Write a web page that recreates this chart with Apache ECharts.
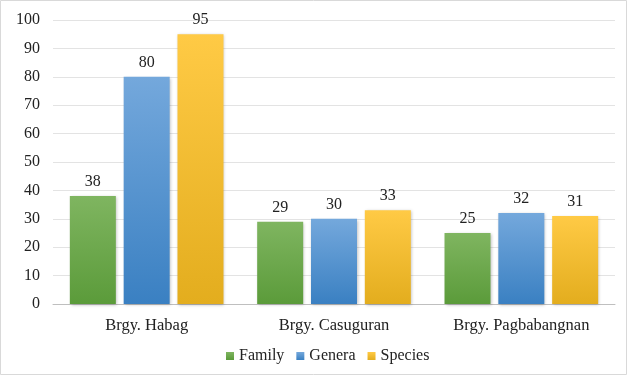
<!DOCTYPE html>
<html>
<head>
<meta charset="utf-8">
<script src="https://cdn.jsdelivr.net/npm/echarts@6/dist/echarts.min.js"></script>
<style>
  html, body { margin: 0; padding: 0; background: #fff; }
  #chart { width: 628px; height: 377px; }
</style>
</head>
<body>
<div id="chart"></div>
<script>
var categories = ['Brgy. Habag', 'Brgy. Casuguran', 'Brgy. Pagbabangnan'];
var familyData = [38, 29, 25];
var generaData = [80, 30, 32];
var speciesData = [95, 33, 31];
var yTicks = [0, 100, 10];

var font = '"Liberation Serif", "Times New Roman", serif';

function grad(top, bottom) {
  return new echarts.graphic.LinearGradient(0, 0, 0, 1, [
    { offset: 0, color: top },
    { offset: 1, color: bottom }
  ]);
}

var label = {
  show: true,
  position: 'top',
  distance: 6,
  color: '#222',
  fontSize: 16,
  fontFamily: font
};

function bar(name, data, top, bottom) {
  return {
    type: 'bar',
    name: name,
    data: data,
    barWidth: 46,
    barGap: '17%',
    itemStyle: {
      color: grad(top, bottom),
      shadowColor: 'rgba(0,0,0,0.25)',
      shadowBlur: 3,
      shadowOffsetX: 1,
      shadowOffsetY: 1
    },
    label: label
  };
}

var chart = echarts.init(document.getElementById('chart'));
chart.setOption({
  animation: false,
  color: ['#70ad47', '#5b9bd5', '#ffc000'],
  graphic: [{
    type: 'rect',
    shape: { x: 0.5, y: 0.5, width: 626, height: 374 },
    style: { fill: 'none', stroke: '#d9d9d9', lineWidth: 1 },
    silent: true
  }],
  legend: {
    top: 343,
    left: 221,
    itemWidth: 8,
    itemHeight: 8,
    itemGap: 12,
    icon: 'rect',
    textStyle: { fontFamily: font, fontSize: 16, color: '#222' },
    data: ['Family', 'Genera', 'Species']
  },
  grid: { left: 53, right: 13, top: 20, bottom: 73 },
  xAxis: {
    type: 'category',
    data: categories,
    axisLine: { lineStyle: { color: '#bfbfbf' } },
    axisTick: { show: false },
    axisLabel: { fontFamily: font, fontSize: 16.5, color: '#222', margin: 13 }
  },
  yAxis: {
    type: 'value',
    min: yTicks[0],
    max: yTicks[1],
    interval: yTicks[2],
    axisLine: { show: false },
    axisTick: { show: false },
    axisLabel: { fontFamily: font, fontSize: 16, color: '#222', margin: 13 },
    splitLine: { lineStyle: { color: '#e3e3e3' } }
  },
  series: [
    bar('Family', familyData, '#7fb560', '#5b9b3a'),
    bar('Genera', generaData, '#74a8dc', '#3a80c2'),
    bar('Species', speciesData, '#ffca45', '#e3ad1e')
  ]
});
</script>
</body>
</html>
